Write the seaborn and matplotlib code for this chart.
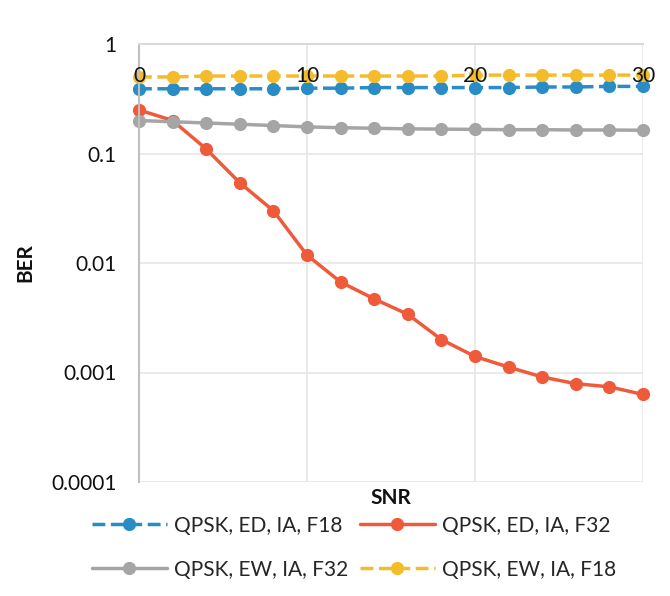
import matplotlib
matplotlib.use("Agg")
import matplotlib.pyplot as plt
import seaborn as sns
import pandas as pd
from matplotlib.ticker import FixedLocator, FixedFormatter
from matplotlib.transforms import blended_transform_factory

snr = [0, 2, 4, 6, 8, 10, 12, 14, 16, 18, 20, 22, 24, 26, 28, 30]
ber_ed_f18 = [0.39, 0.39, 0.39, 0.39, 0.39, 0.395, 0.395, 0.40, 0.40, 0.40, 0.40, 0.40, 0.405, 0.405, 0.41, 0.41]
ber_ed_f32 = [0.25, 0.20, 0.11, 0.054, 0.030, 0.0118, 0.0067, 0.0047, 0.0034, 0.0020, 0.0014, 0.00112, 0.00091, 0.00079, 0.00074, 0.00063]
ber_ew_f32 = [0.20, 0.195, 0.19, 0.185, 0.18, 0.175, 0.172, 0.17, 0.168, 0.167, 0.166, 0.165, 0.165, 0.164, 0.164, 0.163]
ber_ew_f18 = [0.50, 0.50, 0.51, 0.51, 0.51, 0.51, 0.51, 0.51, 0.51, 0.51, 0.52, 0.52, 0.52, 0.52, 0.52, 0.52]

labels = ["QPSK, ED, IA, F18", "QPSK, ED, IA, F32", "QPSK, EW, IA, F32", "QPSK, EW, IA, F18"]
y_ticks = [0.0001, 0.001, 0.01, 0.1, 1]
y_ticklabels = ["0.0001", "0.001", "0.01", "0.1", "1"]
x_ticks = [0, 10, 20, 30]
x_ticklabels = ["0", "10", "20", "30"]

sns.set_theme(style="white")
plt.rcParams['font.family'] = ['Lato', 'DejaVu Sans']

fig = plt.figure(figsize=(6.7, 5.96), dpi=100)
ax = fig.add_axes([139/670, 114/596, 504/670, 438/596])

series = [
    (ber_ed_f18, labels[0], "#2A8CC4", (3.5, 2)),
    (ber_ed_f32, labels[1], "#EE5A3A", None),
    (ber_ew_f32, labels[2], "#A5A5A5", None),
    (ber_ew_f18, labels[3], "#F4BC2A", (3.5, 2)),
]
for vals, lab, col, dash in series:
    df = pd.DataFrame({"SNR": snr, "BER": vals})
    kw = dict(x="SNR", y="BER", data=df, ax=ax, color=col, marker="o",
              markersize=9.5, markeredgewidth=0, linewidth=2.5, label=lab,
              clip_on=False)
    if dash is not None:
        kw["dashes"] = dash
        kw["linestyle"] = "--"
    sns.lineplot(**kw)

ax.set_yscale("log")
ax.set_ylim(0.0001, 1)
ax.set_xlim(0, 30)
ax.yaxis.set_major_locator(FixedLocator(y_ticks))
ax.yaxis.set_major_formatter(FixedFormatter(y_ticklabels))
ax.yaxis.set_minor_locator(FixedLocator([]))
ax.xaxis.set_major_locator(FixedLocator(x_ticks))

ax.grid(True, which="major", color="#E6E6E6", linewidth=1.2)
for s in ["right", "bottom"]:
    ax.spines[s].set_visible(False)
ax.spines["left"].set_color("#BFBFBF")
ax.spines["left"].set_linewidth(1.5)
ax.spines["top"].set_color("#D9D9D9")
ax.spines["top"].set_linewidth(1.5)

ax.tick_params(axis="y", length=0, pad=16, labelsize=15, labelcolor="#111111")
ax.tick_params(axis="x", length=0, bottom=False, top=False, labelbottom=False,
               labeltop=False)

trans = blended_transform_factory(ax.transData, ax.transAxes)
for xv, txt in zip(x_ticks, x_ticklabels):
    ax.text(xv, 0.927, txt, transform=trans, ha="center", va="center",
            fontsize=15, color="#111111", zorder=10)

ax.set_ylabel("BER", fontsize=15, fontweight="bold", color="#111111")
ax.yaxis.set_label_coords(-0.205, 0.5)
ax.set_xlabel("SNR", fontsize=15, fontweight="bold", color="#111111")
ax.xaxis.set_label_coords(0.5, -0.014)

h, l = ax.get_legend_handles_labels()
order = [0, 2, 1, 3]
ax.legend([h[i] for i in order], [l[i] for i in order], ncol=2, frameon=False,
          loc="upper center", bbox_to_anchor=(0.427, -0.058), fontsize=15,
          handlelength=3.6, handletextpad=0.35, columnspacing=0.55,
          labelspacing=1.15, borderaxespad=0)

fig.savefig("out.png", dpi=100, facecolor="white")
